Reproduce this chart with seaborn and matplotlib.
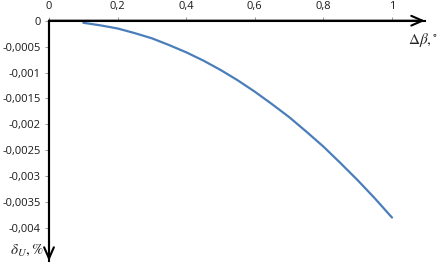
import matplotlib
matplotlib.use("Agg")
import matplotlib.pyplot as plt
import seaborn as sns
import pandas as pd
from matplotlib.ticker import FuncFormatter

# Data
delta_beta = [0.10, 0.15, 0.20, 0.25, 0.30, 0.35, 0.40, 0.45, 0.50, 0.55,
              0.60, 0.65, 0.70, 0.75, 0.80, 0.85, 0.90, 0.95, 1.00]
delta_u = [-0.00004, -0.00009, -0.00015, -0.00024, -0.00034, -0.00047,
           -0.00061, -0.00077, -0.00095, -0.00115, -0.00137, -0.00161,
           -0.00186, -0.00214, -0.00243, -0.00275, -0.00308, -0.00343,
           -0.0038]
x_ticks = [0, 0.2, 0.4, 0.6, 0.8, 1.0]
y_ticks = [0, -0.0005, -0.001, -0.0015, -0.002, -0.0025, -0.003, -0.0035, -0.004]

sns.set_style("white")
plt.rcParams['font.family'] = ['Open Sans', 'DejaVu Sans']
plt.rcParams['mathtext.fontset'] = 'stix'

df = pd.DataFrame({"x": delta_beta, "y": delta_u})

fig = plt.figure(figsize=(4.39, 2.67), dpi=100)
ax = fig.add_axes([49/439, 1 - 261/267, (425 - 49)/439, (261 - 20.7)/267])

sns.lineplot(data=df, x="x", y="y", ax=ax, color="#4A7EBB", linewidth=1.6)

ax.set_xlim(0, (425 - 49) / 343)
ax.set_ylim(-(261 - 20.7) / 51.8 * 0.001, 0)
ax.set_xticks(x_ticks)
ax.set_yticks(y_ticks)

def fmt(v, pos):
    if abs(v) < 1e-12:
        return "0"
    s = ("%.4f" % v).rstrip("0").rstrip(".")
    return s.replace(".", ",")

ax.xaxis.set_major_formatter(FuncFormatter(fmt))
ax.yaxis.set_major_formatter(FuncFormatter(fmt))
ax.xaxis.tick_top()
ax.tick_params(axis="both", direction="out", length=3, width=0.6,
               color="#888888", labelsize=8, pad=3, labelcolor="#1a1a1a")
ax.tick_params(axis="x", top=True, bottom=False)
ax.tick_params(axis="y", left=True, right=False)

for s in ["right", "bottom"]:
    ax.spines[s].set_visible(False)
ax.spines["left"].set_linewidth(1.5)
ax.spines["top"].set_linewidth(1.5)
ax.spines["left"].set_color("black")
ax.spines["top"].set_color("black")

ax.set_xlabel("")
ax.set_ylabel("")

arrow = dict(arrowstyle="->,head_length=0.8,head_width=0.35", lw=1.5,
             color="black", shrinkA=0, shrinkB=0, mutation_scale=10)
ax.annotate("", xy=(1.0, 1.0), xytext=(0.0, 1.0), xycoords="axes fraction",
            textcoords="axes fraction", arrowprops=arrow, annotation_clip=False)
ax.annotate("", xy=(0.0, 0.0), xytext=(0.0, 1.0), xycoords="axes fraction",
            textcoords="axes fraction", arrowprops=arrow, annotation_clip=False)

fig.text(423/439, 1 - 40/267, r"$\Delta\beta,^{\circ}$", ha="center", va="center",
         fontsize=11)
fig.text(27/439, 1 - 250/267, r"$\delta_U,\%$", ha="center", va="center",
         fontsize=11)

ax.patch.set_alpha(0)
fig.savefig("out.png", dpi=100, facecolor="white")
